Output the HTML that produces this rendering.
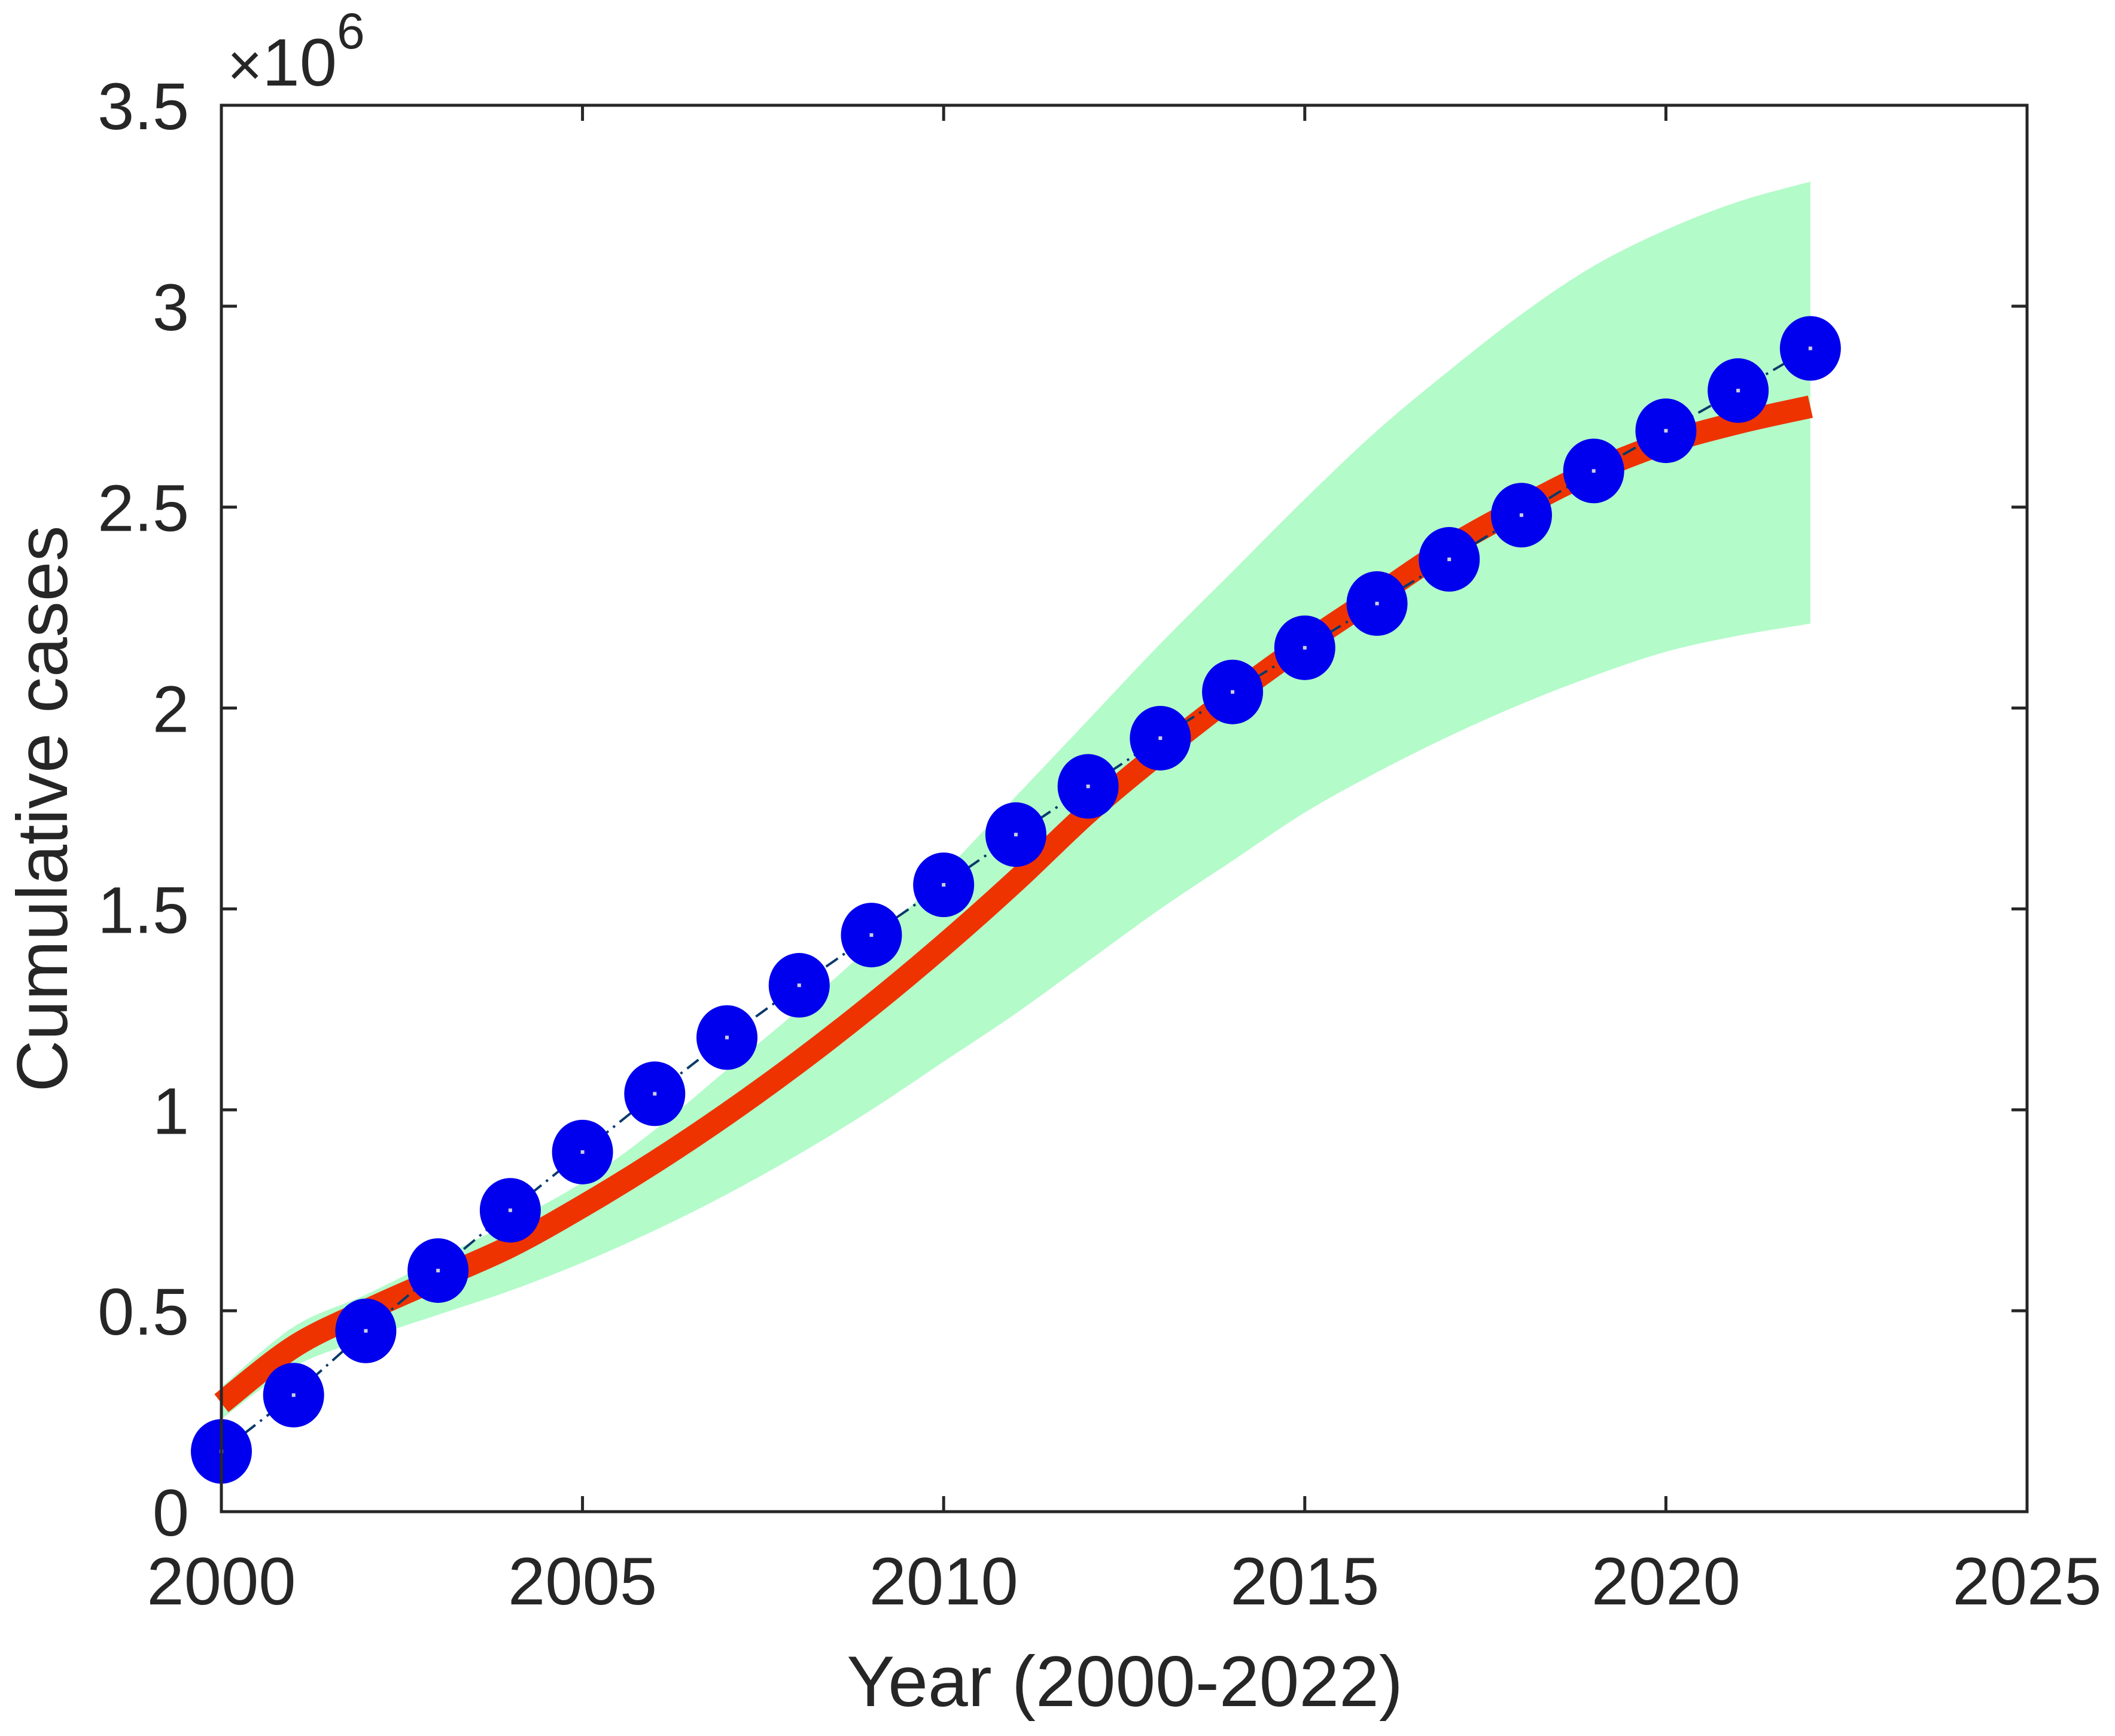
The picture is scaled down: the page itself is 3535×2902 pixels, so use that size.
<!DOCTYPE html>
<html><head><meta charset="utf-8"><style>
html,body{margin:0;padding:0;background:#fff;}
svg{display:block;font-family:"Liberation Sans",Arial,sans-serif;}
</style></head><body>
<svg id="chart" width="3535" height="2902" viewBox="0 0 3535 2902" xmlns="http://www.w3.org/2000/svg">
<rect width="3535" height="2902" fill="#fff"/>
<g id="plot"></g>
<g id="axes"></g>
</svg>
<script>
const years=[2000,2001,2002,2003,2004,2005,2006,2007,2008,2009,2010,2011,2012,2013,2014,2015,2016,2017,2018,2019,2020,2021,2022];
const observed=[0.15,0.29,0.45,0.60,0.75,0.895,1.04,1.18,1.31,1.435,1.56,1.685,1.805,1.925,2.04,2.15,2.26,2.37,2.48,2.59,2.69,2.79,2.895];
const fitted=[0.27,0.41,0.50,0.58,0.66,0.76,0.87,0.99,1.12,1.26,1.41,1.57,1.74,1.89,2.03,2.16,2.28,2.40,2.50,2.59,2.66,2.71,2.75];
const upperBand=[0.31,0.46,0.54,0.63,0.72,0.82,0.95,1.10,1.25,1.41,1.59,1.78,1.97,2.16,2.34,2.52,2.69,2.84,2.98,3.10,3.19,3.26,3.31];
const lowerBand=[0.23,0.36,0.43,0.49,0.55,0.62,0.70,0.79,0.89,1.00,1.12,1.24,1.37,1.50,1.62,1.74,1.84,1.93,2.01,2.08,2.14,2.18,2.21];
const xTicks=[2000,2005,2010,2015,2020,2025];
const yTicks=[0,0.5,1,1.5,2,2.5,3,3.5];
const yTickLabels=["0","0.5","1","1.5","2","2.5","3","3.5"];

const L=370,R=3388,T=176,B=2527;
const X=v=>L+(v-2000)/25*(R-L);
const Y=v=>B-v/3.5*(B-T);
const NS="http://www.w3.org/2000/svg";
function mk(tag,attrs,parent){const e=document.createElementNS(NS,tag);for(const k in attrs)e.setAttribute(k,attrs[k]);parent.appendChild(e);return e;}
function smooth(pts,start){
  let d=start?'M'+pts[0][0]+','+pts[0][1]:' L'+pts[0][0]+','+pts[0][1];
  for(let i=0;i<pts.length-1;i++){
    const p0=pts[Math.max(i-1,0)],p1=pts[i],p2=pts[i+1],p3=pts[Math.min(i+2,pts.length-1)];
    const c1=[p1[0]+(p2[0]-p0[0])/6,p1[1]+(p2[1]-p0[1])/6];
    const c2=[p2[0]-(p3[0]-p1[0])/6,p2[1]-(p3[1]-p1[1])/6];
    d+=' C'+c1[0]+','+c1[1]+' '+c2[0]+','+c2[1]+' '+p2[0]+','+p2[1];
  }
  return d;
}
const plot=document.getElementById('plot');
const axes=document.getElementById('axes');

const up=years.map((y,i)=>[X(y),Y(upperBand[i])]);
const lo=years.map((y,i)=>[X(y),Y(lowerBand[i])]).reverse();
const band=mk('path',{d:smooth(up,true)+smooth(lo,false)+' Z',fill:'#b3fbc9'},plot);



const fl=mk('path',{d:smooth(years.map((y,i)=>[X(y),Y(fitted[i])]),true),fill:'none',stroke:'#ee3300','stroke-width':38},plot);



const ol=mk('polyline',{points:years.map((y,i)=>X(y)+','+Y(observed[i])).join(' '),fill:'none',stroke:'#0a3a6a','stroke-width':4,'stroke-dasharray':'24 10 4 10'},plot);



years.forEach((y,i)=>{
  const c=mk('ellipse',{cx:X(y),cy:Y(observed[i]),rx:51,ry:54,fill:'#0000ee'},plot);
  
  
  mk('rect',{x:X(y)-3,y:Y(observed[i])-3,width:6,height:6,fill:'#ccd'},plot);
});

const fr=mk('rect',{x:L,y:T,width:R-L,height:B-T,fill:'none',stroke:'#262626','stroke-width':5},axes);



xTicks.forEach(t=>{
  const x=X(t);
  mk('line',{x1:x,y1:B,x2:x,y2:B-26,stroke:'#262626','stroke-width':5},axes);
  mk('line',{x1:x,y1:T,x2:x,y2:T+26,stroke:'#262626','stroke-width':5},axes);
  const tx=mk('text',{x:x,y:2682,'text-anchor':'middle','font-size':112,fill:'#262626'},axes);
  tx.textContent=t;
  
  
});
yTicks.forEach((t,i)=>{
  const y=Y(t);
  mk('line',{x1:L,y1:y,x2:L+26,y2:y,stroke:'#262626','stroke-width':5},axes);
  mk('line',{x1:R,y1:y,x2:R-26,y2:y,stroke:'#262626','stroke-width':5},axes);
  const tx=mk('text',{x:316,y:y+40,'text-anchor':'end','font-size':110,fill:'#262626'},axes);
  tx.textContent=yTickLabels[i];
  
  
});
const ex=mk('text',{x:380,y:143,'font-size':112,fill:'#262626'},axes);
ex.innerHTML='<tspan font-size="100">×</tspan>10<tspan font-size="84" dy="-62">6</tspan>';



const xt=mk('text',{x:1880,y:2852,'text-anchor':'middle','font-size':120,fill:'#262626'},axes);
xt.textContent='Year (2000-2022)';


const yt=mk('text',{x:0,y:0,'text-anchor':'middle','font-size':120,fill:'#262626',transform:'translate(112,1352) rotate(-90)'},axes);
yt.textContent='Cumulative cases';


</script>
</body></html>
